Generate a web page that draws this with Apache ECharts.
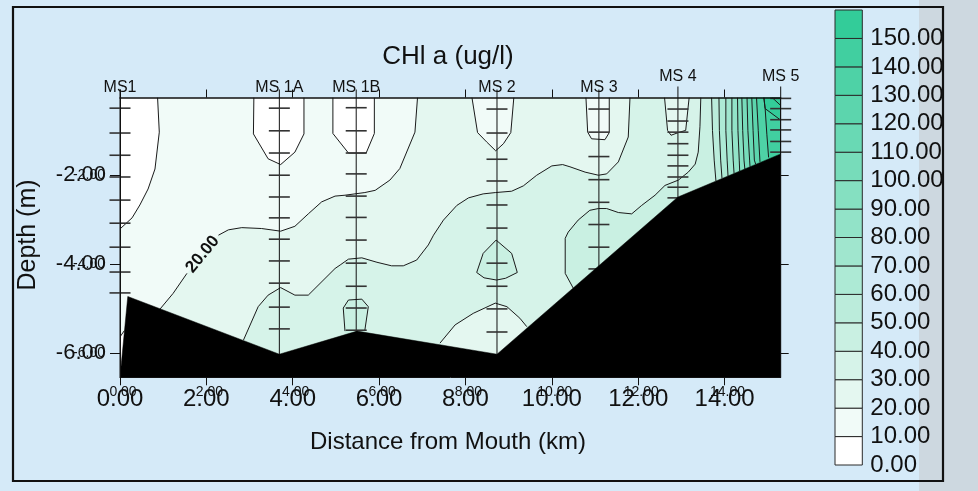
<!DOCTYPE html>
<html>
<head>
<meta charset="utf-8">
<script src="https://cdn.jsdelivr.net/npm/echarts@6/dist/echarts.min.js"></script>
<style>
  html, body { margin: 0; padding: 0; background: #d5eaf8; }
  #chart { width: 978px; height: 491px; }
</style>
</head>
<body>
<div id="chart"></div>
<script>
// ---- axes ----------------------------------------------------------------
const KM_MAX = 15.3;          // far end of the transect (km)
const DEPTH_TOP = -0.25;      // shallowest depth shown (m)
const DEPTH_BOTTOM = -6.55;   // deepest depth shown (m)
const distanceTicks = [0, 2, 4, 6, 8, 10, 12, 14];
const depthTicks = [-6, -4, -2];

// ---- colour scale (CHl a, ug/l) -----------------------------------------
const legendLevels = [0, 10, 20, 30, 40, 50, 60, 70, 80, 90, 100, 110, 120, 130, 140, 150];
const legendTop = 160;
const bandColors = [
  '#ffffff', '#f1fbf8', '#e4f7f0', '#d6f3e9', '#c9f0e2', '#bbecdb', '#adead5', '#a0e6ce',
  '#92e3c8', '#85e0c1', '#77dcba', '#69d9b4', '#5cd5ad', '#4ed2a6', '#41cfa0', '#33cc99'
];

// ---- sampling stations --------------------------------------------------
const stationNames = ['MS1', 'MS 1A', 'MS 1B', 'MS 2', 'MS 3', 'MS 4', 'MS 5'];
const stationKm = [0, 3.69, 5.47, 8.73, 11.09, 12.92, 15.30];
const samplesMS1  = [-0.49, -1.05, -1.55, -2.04, -2.56, -3.08, -3.62, -4.18, -4.65];
const samplesMS1A = [-0.49, -1.00, -1.50, -2.00, -2.49, -2.96, -3.44, -3.93, -4.43, -4.97, -5.46];
const samplesMS1B = [-0.48, -1.00, -1.50, -1.97, -2.47, -2.95, -3.46, -3.98, -4.50, -4.99, -5.49];
const samplesMS2  = [-0.51, -1.05, -1.64, -2.13, -2.67, -3.19, -3.98, -4.50, -5.01, -5.53];
const samplesMS3  = [-0.51, -1.03, -1.58, -2.10, -2.61, -3.11, -3.62, -4.11];
const samplesMS4  = [-0.51, -0.78, -1.03, -1.29, -1.55, -1.79, -2.04, -2.27, -2.51];
const samplesMS5  = [-0.27, -0.50, -0.75, -0.98, -1.24, -1.48];
const sampleDepths = [samplesMS1, samplesMS1A, samplesMS1B, samplesMS2, samplesMS3, samplesMS4, samplesMS5];
const raisedStations = ['MS 4', 'MS 5'];

// ---- river bed ----------------------------------------------------------
const bottomKm    = [0, 0.18, 3.69, 5.49, 8.73, 12.92, 15.30, 15.30];
const bottomDepth = [-6.55, -4.73, -6.03, -5.51, -6.03, -2.49, -1.52, -6.55];

// ---- isolines [km, depth] ----------------------------------------------
const iso10 = [[0.87, -0.25], [0.91, -1.03], [0.81, -1.86], [0.65, -2.31], [0.46, -2.67], [0.28, -2.96], [0, -3.21]];
const iso10Edge = [[0, -5.64], [0.10, -5.50]];
const pocketMS1A = [[3.10, -0.25], [3.09, -1.07], [3.43, -1.63], [3.72, -1.76], [4.05, -1.48], [4.26, -1.07], [4.26, -0.25]];
const pocketMS1B = [[4.93, -0.25], [4.93, -1.06], [5.29, -1.50], [5.70, -1.50], [5.89, -1.06], [5.89, -0.25]];
const iso20 = [[0.93, -5.01], [1.23, -4.66], [1.55, -4.21], [2.28, -3.35], [2.51, -3.23], [2.82, -3.18], [3.28, -3.20],
  [3.72, -3.26], [4.05, -3.15], [4.36, -2.87], [4.67, -2.60], [4.98, -2.47], [5.21, -2.45], [5.67, -2.39],
  [5.91, -2.34], [6.25, -2.11], [6.48, -1.85], [6.83, -1.03], [6.89, -0.25]];
const pocketMS2 = [[8.15, -0.25], [8.28, -1.04], [8.49, -1.25], [8.70, -1.45], [8.88, -1.29], [9.05, -1.04], [9.12, -0.25]];
const iso30 = [[2.86, -5.71], [3.20, -4.96], [3.43, -4.70], [3.72, -4.53], [4.05, -4.70], [4.36, -4.70], [4.98, -4.10],
  [5.10, -4.02], [5.29, -3.89], [5.60, -3.86], [5.95, -3.96], [6.29, -4.04], [6.56, -4.04], [6.87, -3.91],
  [7.14, -3.57], [7.26, -3.35], [7.49, -3.01], [7.80, -2.68], [8.07, -2.51], [8.41, -2.42], [8.70, -2.39],
  [9.07, -2.36], [9.34, -2.24], [9.65, -2.00], [10.00, -1.79], [10.25, -1.76], [10.42, -1.81], [10.77, -1.93],
  [11.08, -2.00], [11.27, -1.97], [11.54, -1.70], [11.77, -1.14], [11.81, -0.25]];
const pocketMS3 = [[10.79, -0.25], [10.83, -1.03], [10.92, -1.18], [11.23, -1.20], [11.33, -1.04], [11.33, -0.25]];
const islandMS1B = [[5.21, -5.51], [5.17, -4.99], [5.29, -4.81], [5.60, -4.79], [5.75, -4.96], [5.67, -5.49]];
const islandMS2 = [[8.71, -3.46], [9.07, -3.76], [9.20, -4.19], [8.93, -4.32], [8.72, -4.36], [8.43, -4.31], [8.26, -4.19], [8.41, -3.76]];
const pocketMS2Bottom = [[7.41, -5.78], [7.76, -5.37], [8.18, -5.11], [8.69, -4.88], [8.96, -4.96], [9.26, -5.22], [9.42, -5.41]];
const iso40 = [[10.50, -4.55], [10.31, -4.21], [10.31, -3.42], [10.38, -3.28], [10.61, -3.01], [10.88, -2.79], [11.08, -2.75],
  [11.27, -2.75], [11.54, -2.84], [11.85, -2.87], [12.08, -2.68], [12.39, -2.45], [12.62, -2.23], [12.93, -2.11],
  [13.16, -1.93], [13.32, -1.75], [13.39, -1.48], [13.43, -0.91], [13.45, -0.25]];
const pocketMS4 = [[12.61, -0.25], [12.68, -0.99], [12.76, -1.10], [12.93, -1.04], [13.10, -0.99], [13.18, -0.25]];
const iso50  = [[13.80, -2.13], [13.76, -1.66], [13.72, -0.99], [13.70, -0.25]];
const iso60  = [[13.94, -2.07], [13.91, -1.66], [13.88, -0.99], [13.87, -0.25]];
const iso70  = [[14.08, -2.02], [14.06, -1.66], [14.03, -0.99], [14.03, -0.25]];
const iso80  = [[14.22, -1.96], [14.20, -1.66], [14.17, -0.99], [14.17, -0.25]];
const iso90  = [[14.35, -1.91], [14.34, -1.66], [14.31, -0.99], [14.30, -0.25]];
const iso100 = [[14.47, -1.86], [14.45, -1.66], [14.42, -0.99], [14.40, -0.25]];
const iso110 = [[14.59, -1.81], [14.58, -1.66], [14.54, -0.99], [14.52, -0.25]];
const iso120 = [[14.72, -1.75], [14.69, -1.66], [14.66, -0.99], [14.63, -0.25]];
const iso130 = [[14.82, -1.70], [14.78, -0.99], [14.74, -0.25]];
const iso140 = [[15.02, -1.60], [14.98, -1.09], [14.94, -0.50], [14.91, -0.25]];
const iso150 = [[15.30, -0.76], [14.94, -0.50], [14.91, -0.25]];
const iso160 = [[15.30, -0.43], [15.10, -0.25]];

// ---- filled bands, painted in order (later ones sit on top) ------------
const closeRight = line => line.concat([[KM_MAX, DEPTH_TOP], [KM_MAX, DEPTH_BOTTOM], [line[0][0], DEPTH_BOTTOM]]);
const fills = [
  { band: 1, pts: [[0, DEPTH_TOP], [KM_MAX, DEPTH_TOP], [KM_MAX, DEPTH_BOTTOM], [0, DEPTH_BOTTOM]] },
  { band: 0, pts: [[0, DEPTH_TOP]].concat(iso10) },
  { band: 0, pts: iso10Edge.concat([[0.10, DEPTH_BOTTOM], [0, DEPTH_BOTTOM]]) },
  { band: 0, pts: pocketMS1A },
  { band: 0, pts: pocketMS1B },
  { band: 2, pts: closeRight(iso20) },
  { band: 1, pts: pocketMS2 },
  { band: 3, pts: closeRight(iso30) },
  { band: 1, pts: pocketMS3 },
  { band: 4, pts: islandMS1B.concat([[5.67, -5.75], [5.21, -5.75]]) },
  { band: 4, pts: islandMS2 },
  { band: 2, pts: pocketMS2Bottom.concat([[8.73, -6.3]]) },
  { band: 4, pts: closeRight(iso40) },
  { band: 2, pts: pocketMS4 },
  { band: 5, pts: closeRight(iso50) },
  { band: 6, pts: closeRight(iso60) },
  { band: 7, pts: closeRight(iso70) },
  { band: 8, pts: closeRight(iso80) },
  { band: 9, pts: closeRight(iso90) },
  { band: 10, pts: closeRight(iso100) },
  { band: 11, pts: closeRight(iso110) },
  { band: 12, pts: closeRight(iso120) },
  { band: 13, pts: closeRight(iso130) },
  { band: 14, pts: closeRight(iso140) },
  { band: 15, pts: iso150.concat([[KM_MAX, DEPTH_TOP]]) }
];

// ---- isolines to stroke -------------------------------------------------
const strokes = [
  { pts: iso10 }, { pts: iso10Edge }, { pts: pocketMS1A }, { pts: pocketMS1B },
  { pts: iso20, level: 20, gapAfter: 2 },
  { pts: pocketMS2 }, { pts: iso30 }, { pts: pocketMS3 },
  { pts: islandMS1B }, { pts: islandMS2, closed: true }, { pts: pocketMS2Bottom },
  { pts: iso40 }, { pts: pocketMS4 },
  { pts: iso50 }, { pts: iso60 }, { pts: iso70 }, { pts: iso80 }, { pts: iso90 },
  { pts: iso100 }, { pts: iso110 }, { pts: iso120 }, { pts: iso130 }, { pts: iso140 },
  { pts: iso150 }, { pts: iso160 }
];

const FONT = '"Liberation Sans", Arial, Helvetica, sans-serif';
const INK = '#111';

function textEl(x, y, text, font, extra) {
  return Object.assign({
    type: 'text', x: x, y: y,
    style: { text: text, font: font, fill: INK, align: 'center', verticalAlign: 'middle',
             textAlign: 'center', textVerticalAlign: 'middle' }
  }, extra || {});
}

const chart = echarts.init(document.getElementById('chart'), null, { renderer: 'canvas' });

const valueFmt = v => Number(v).toFixed(2);

const option = {
  animation: false,
  backgroundColor: '#d5eaf8',
  textStyle: { fontFamily: FONT },
  grid: [
    { left: 120, top: 97.5, width: 660.7, height: 279.8, containLabel: false, outerBoundsMode: 'none' },
    { left: 835, top: 10, width: 27.3, height: 455, containLabel: false, outerBoundsMode: 'none' }
  ],
  xAxis: [
    {
      gridIndex: 0, type: 'value', position: 'bottom', min: 0, max: KM_MAX, interval: 2, z: 5,
      axisLine: { show: true, onZero: false, lineStyle: { color: INK, width: 1 } },
      axisTick: { show: true, inside: false, length: 8, customValues: distanceTicks, lineStyle: { color: INK } },
      axisLabel: { customValues: distanceTicks, formatter: valueFmt, fontSize: 24, color: INK, margin: 10, fontFamily: FONT },
      splitLine: { show: false }
    },
    {
      gridIndex: 0, type: 'value', position: 'top', min: 0, max: KM_MAX, interval: 2, z: 5,
      axisLine: { show: true, onZero: false, lineStyle: { color: INK, width: 1.5 } },
      axisTick: { show: true, inside: false, length: 8, customValues: distanceTicks, lineStyle: { color: INK } },
      axisLabel: { show: false },
      splitLine: { show: false }
    },
    {
      // second, smaller set of distance labels printed over the first
      gridIndex: 0, type: 'value', position: 'bottom', min: 0, max: KM_MAX, interval: 2, z: 6,
      axisLine: { show: false, onZero: false }, axisTick: { show: false },
      axisLabel: { customValues: distanceTicks, formatter: valueFmt, fontSize: 14, color: INK, margin: 8,
                   padding: [0, 0, 0, 6], fontFamily: FONT },
      splitLine: { show: false }
    },
    { gridIndex: 1, type: 'value', min: 0, max: 1, show: false }
  ],
  yAxis: [
    {
      gridIndex: 0, type: 'value', position: 'left', min: DEPTH_BOTTOM, max: DEPTH_TOP, z: 5,
      axisLine: { show: true, onZero: false, lineStyle: { color: INK, width: 1 } },
      axisTick: { show: true, inside: false, length: 10, customValues: depthTicks, lineStyle: { color: INK } },
      axisLabel: { customValues: depthTicks, formatter: valueFmt, fontSize: 22, color: INK, margin: 14, fontFamily: FONT },
      splitLine: { show: false }
    },
    {
      gridIndex: 0, type: 'value', position: 'right', min: DEPTH_BOTTOM, max: DEPTH_TOP, z: 5,
      axisLine: { show: true, onZero: false, lineStyle: { color: INK, width: 1 } },
      axisTick: { show: true, inside: false, length: 8, customValues: depthTicks, lineStyle: { color: INK } },
      axisLabel: { show: false },
      splitLine: { show: false }
    },
    {
      // second, smaller set of depth labels printed over the first
      gridIndex: 0, type: 'value', position: 'left', min: DEPTH_BOTTOM, max: DEPTH_TOP, z: 6,
      axisLine: { show: false, onZero: false }, axisTick: { show: false },
      axisLabel: { customValues: depthTicks, formatter: valueFmt, fontSize: 14, color: INK, margin: 15,
                   padding: [0, 0, 8, 0], fontFamily: FONT },
      splitLine: { show: false }
    },
    {
      gridIndex: 1, type: 'value', position: 'right', min: 0, max: legendTop, z: 5,
      axisLine: { show: false }, axisTick: { show: false },
      axisLabel: { customValues: legendLevels, formatter: valueFmt, fontSize: 24, color: INK, margin: 8, fontFamily: FONT },
      splitLine: { show: false }
    }
  ],
  graphic: [
    { type: 'rect', z: -10, silent: true, shape: { x: 919, y: 0, width: 59, height: 491 }, style: { fill: '#cdd8e0' } },
    { type: 'rect', z: 100, silent: true, shape: { x: 13, y: 7, width: 930, height: 474 },
      style: { fill: 'none', stroke: '#111', lineWidth: 2.2 } },
    textEl(448, 57, 'CHl a (ug/l)', '26px ' + FONT, { z: 50 }),
    textEl(448, 442, 'Distance from Mouth (km)', '24px ' + FONT, { z: 50 }),
    textEl(28, 235, 'Depth (m)', '25px ' + FONT, { z: 50, rotation: Math.PI / 2 })
  ],
  series: [
    {
      // concentration bands
      type: 'custom', name: 'bands', xAxisIndex: 0, yAxisIndex: 0, clip: true, z: 1, silent: true,
      data: fills.map(f => [f.pts[0][0], f.pts[0][1]]),
      renderItem: function (params, api) {
        const f = fills[params.dataIndex];
        return {
          type: 'polygon',
          shape: { points: f.pts.map(p => api.coord(p)) },
          style: { fill: bandColors[f.band], stroke: null }
        };
      }
    },
    {
      // isolines
      type: 'custom', name: 'isolines', xAxisIndex: 0, yAxisIndex: 0, clip: true, z: 2, silent: true,
      data: strokes.map(s => [s.pts[0][0], s.pts[0][1]]),
      renderItem: function (params, api) {
        const s = strokes[params.dataIndex];
        const px = s.pts.map(p => api.coord(p));
        const parts = s.gapAfter != null ? [px.slice(0, s.gapAfter + 1), px.slice(s.gapAfter + 1)] : [px];
        const children = parts.map(part => ({
          type: s.closed ? 'polygon' : 'polyline',
          shape: { points: part },
          style: { stroke: '#1a1a1a', lineWidth: 1, fill: null }
        }));
        if (s.gapAfter != null) {
          const a = px[s.gapAfter], b = px[s.gapAfter + 1];
          const ang = Math.atan2(a[1] - b[1], b[0] - a[0]);
          children.push(textEl((a[0] + b[0]) / 2, (a[1] + b[1]) / 2, valueFmt(s.level), 'bold 17px ' + FONT,
            { rotation: ang }));
        }
        return { type: 'group', children: children };
      }
    },
    {
      // stations with their sampling depths
      type: 'custom', name: 'stations', xAxisIndex: 0, yAxisIndex: 0, clip: false, z: 3, silent: true,
      data: stationKm.map(k => [k, DEPTH_TOP]),
      renderItem: function (params, api) {
        const i = params.dataIndex;
        const km = stationKm[i];
        const top = api.coord([km, DEPTH_TOP]);
        const bot = api.coord([km, DEPTH_BOTTOM]);
        const raised = raisedStations.indexOf(stationNames[i]) >= 0;
        const children = [{
          type: 'line',
          shape: { x1: top[0], y1: top[1] - (raised ? 11 : 8), x2: top[0], y2: bot[1] },
          style: { stroke: '#111', lineWidth: 1 }
        }];
        sampleDepths[i].forEach(d => {
          const p = api.coord([km, d]);
          children.push({
            type: 'line',
            shape: { x1: p[0] - 10.5, y1: p[1], x2: p[0] + 10.5, y2: p[1] },
            style: { stroke: '#333', lineWidth: 1.6 }
          });
        });
        children.push(textEl(top[0], top[1] - (raised ? 21 : 9.5), stationNames[i], '16px ' + FONT));
        return { type: 'group', children: children };
      }
    },
    {
      // river bed
      type: 'custom', name: 'bed', xAxisIndex: 0, yAxisIndex: 0, clip: true, z: 4, silent: true,
      data: [[bottomKm[0], bottomDepth[0]]],
      renderItem: function (params, api) {
        return {
          type: 'polygon',
          shape: { points: bottomKm.map((k, j) => api.coord([k, bottomDepth[j]])) },
          style: { fill: '#000', stroke: '#000', lineWidth: 0.5 }
        };
      }
    },
    {
      // colour scale
      type: 'custom', name: 'scale', xAxisIndex: 3, yAxisIndex: 3, clip: false, z: 4, silent: true,
      data: legendLevels.map(l => [0.5, l]),
      renderItem: function (params, api) {
        const j = params.dataIndex;
        const lo = legendLevels[j];
        const hi = j + 1 < legendLevels.length ? legendLevels[j + 1] : legendTop;
        const p0 = api.coord([0, hi]);
        const p1 = api.coord([1, lo]);
        return {
          type: 'rect',
          shape: { x: p0[0], y: p0[1], width: p1[0] - p0[0], height: p1[1] - p0[1] },
          style: { fill: bandColors[j], stroke: '#2a2a2a', lineWidth: 1 }
        };
      }
    }
  ]
};

chart.setOption(option);
</script>
</body>
</html>
